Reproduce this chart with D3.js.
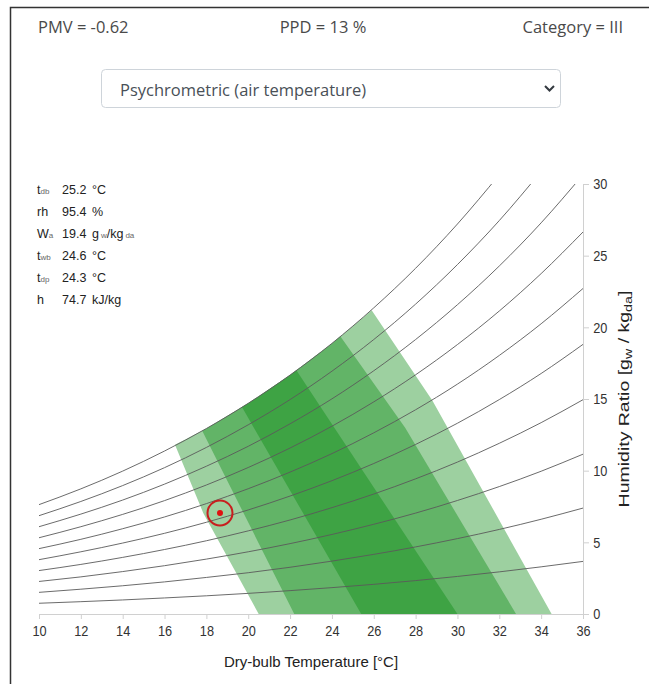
<!DOCTYPE html>
<html><head><meta charset="utf-8">
<script src="https://cdn.jsdelivr.net/npm/d3@7"></script>
<style>body{margin:0;background:#fff} svg{display:block}</style>
</head><body><svg id="c" width="649" height="684"></svg>
<script>
// ---- data ----
const temps=[10,12,14,16,18,20,22,24,26,28,30,32,34,36];
const rhLevels=[10,20,30,40,50,60,70,80,90,100];
const rh10=[0.75,0.86,0.98,1.12,1.27,1.44,1.63,1.84,2.07,2.33,2.62,2.94,3.29,3.67];
const rh20=[1.51,1.73,1.97,2.24,2.55,2.88,3.26,3.69,4.16,4.68,5.26,5.90,6.61,7.39];
const rh30=[2.27,2.59,2.96,3.37,3.83,4.34,4.91,5.55,6.26,7.04,7.92,8.89,9.96,11.15];
const rh40=[3.03,3.46,3.95,4.50,5.11,5.80,6.56,7.42,8.37,9.43,10.60,11.91,13.35,14.95];
const rh50=[3.79,4.34,4.95,5.63,6.40,7.26,8.23,9.30,10.50,11.83,13.31,14.96,16.78,18.81];
const rh60=[4.56,5.21,5.95,6.77,7.70,8.74,9.90,11.19,12.64,14.25,16.04,18.04,20.25,22.71];
const rh70=[5.32,6.09,6.95,7.91,9.00,10.22,11.58,13.10,14.80,16.69,18.80,21.14,23.75,26.65];
const rh80=[6.09,6.97,7.95,9.06,10.31,11.70,13.27,15.01,16.97,19.15,21.58,24.28,27.29,30.65];
const rh90=[6.86,7.85,8.96,10.21,11.62,13.20,14.96,16.94,19.15,21.62,24.38,27.45,30.88];
const rh100=[7.63,8.73,9.97,11.37,12.94,14.70,16.67,18.88,21.36,24.12,27.21,30.65];
const rhSeries=[rh10,rh20,rh30,rh40,rh50,rh60,rh70,rh80,rh90,rh100];

// comfort zones [tdb, W]
const zoneCatIII=[[20.5,0],[17.85,7.05],[16.5,11.8],[18,12.94],[20,14.70],[22,16.67],[24,18.88],[25.9,21.2],[28.8,14.9],[34.5,0]];
const zoneCatII=[[22.2,0],[17.8,12.78],[18,12.94],[20,14.70],[22,16.67],[24,18.88],[24.4,19.38],[27.5,13.0],[32.8,0]];
const zoneCatI=[[25.4,0],[19.7,14.44],[20,14.70],[22,16.67],[22.3,17.0],[30.0,0]];
const zones=[zoneCatIII,zoneCatII,zoneCatI];

const point=[18.65,7.05];
const xTicks=[10,12,14,16,18,20,22,24,26,28,30,32,34,36];
const yTicks=[0,5,10,15,20,25,30];

const headerLabels=["PMV = -0.62","PPD = 13 %","Category = III"];
const selectLabel="Psychrometric (air temperature)";
const infoNames=[["t","db"],["rh",""],["W","a"],["t","wb"],["t","dp"],["h",""]];
const infoValues=["25.2","95.4","19.4","24.6","24.3","74.7"];
const infoUnits=[["°C"],["%"],["g","w","/kg","da"],["°C"],["°C"],["kJ/kg"]];

// ---- drawing ----
const svg=d3.select("#c");
svg.append("rect").attr("width",649).attr("height",684).attr("fill","#fff");
svg.append("path").attr("d","M10.5,684 V7.5 H649").attr("fill","none").attr("stroke","#333").attr("stroke-width",1.5);

const SANS="'Liberation Sans', Arial, sans-serif";
const HDR="'Open Sans', 'Segoe UI', sans-serif";

// header
const hx=[38,323,623], ha=["start","middle","end"];
headerLabels.forEach((t,i)=>{
  svg.append("text").attr("x",hx[i]).attr("y",26).attr("dominant-baseline","central")
    .attr("text-anchor",ha[i]).attr("font-family",HDR).attr("font-size",16.5).attr("fill","#4a4a4a").text(t);
});
// select box
svg.append("rect").attr("x",101.5).attr("y",69.5).attr("width",459).attr("height",38).attr("rx",4)
  .attr("fill","#fff").attr("stroke","#ced4da");
svg.append("text").attr("x",120).attr("y",89).attr("dominant-baseline","central")
  .attr("font-family",HDR).attr("font-size",16.5).attr("fill","#495057").text(selectLabel);
svg.append("path").attr("d","M545,86 l4.5,4.5 l4.5,-4.5").attr("fill","none").attr("stroke","#343a40").attr("stroke-width",2);

const x=d3.scaleLinear().domain([10,36]).range([39,583]);
const y=d3.scaleLinear().domain([0,30]).range([614,184]);

svg.append("clipPath").attr("id","plot").append("rect")
  .attr("x",x(10)).attr("y",y(30)).attr("width",x(36)-x(10)).attr("height",y(0)-y(30));
const g=svg.append("g").attr("clip-path","url(#plot)");

const poly=d3.line().x(d=>x(d[0])).y(d=>y(d[1]));
g.selectAll("path.zone").data(zones).join("path").attr("class","zone")
  .attr("d",d=>poly(d)+"Z").attr("fill","#0a8a12").attr("fill-opacity",0.4);

const line=d3.line().x(d=>x(d[0])).y(d=>y(d[1])).curve(d3.curveMonotoneX);
g.selectAll("path.rh").data(rhSeries).join("path").attr("class","rh")
  .attr("d",s=>line(s.map((w,i)=>[temps[i],w]))).attr("fill","none")
  .attr("stroke","#5a5a5a").attr("stroke-width",0.9);

svg.append("circle").attr("cx",x(point[0])).attr("cy",y(point[1])).attr("r",12.5)
  .attr("fill","none").attr("stroke","#c81e1e").attr("stroke-width",2);
svg.append("circle").attr("cx",x(point[0])).attr("cy",y(point[1])).attr("r",3).attr("fill","#e01010");

// axes
const xa=svg.append("g").attr("transform",`translate(0,${y(0)})`)
  .call(d3.axisBottom(x).tickValues(xTicks).tickSize(5).tickPadding(6).tickSizeOuter(0));
const ya=svg.append("g").attr("transform",`translate(${x(36)},0)`)
  .call(d3.axisRight(y).tickValues(yTicks).tickSize(6).tickPadding(6).tickSizeOuter(0));
[xa,ya].forEach(a=>{
  a.selectAll("path,line").attr("stroke","#d0d0d0");
  a.selectAll("text").attr("font-family",SANS).attr("font-size",15).attr("fill","#333").attr("transform","scale(0.85,1)");
});

svg.append("text").attr("x",x(23)).attr("y",661).attr("text-anchor","middle")
  .attr("dominant-baseline","central").attr("font-family",SANS).attr("font-size",15).attr("fill","#222")
  .text("Dry-bulb Temperature [°C]");

const yt=svg.append("text").attr("transform",`translate(624,${y(15)}) rotate(-90) scale(1.3,1)`).attr("text-anchor","middle")
  .attr("dominant-baseline","central").attr("font-family",SANS).attr("font-size",15).attr("fill","#222");
yt.append("tspan").text("Humidity Ratio [g");
yt.append("tspan").attr("dy",4).attr("font-size",11).text("w");
yt.append("tspan").attr("dy",-4).text(" / kg");
yt.append("tspan").attr("dy",4).attr("font-size",11).text("da");
yt.append("tspan").attr("dy",-4).text("]");

// info block
const rowY=[190,212,234,256,278,300];
infoNames.forEach((n,i)=>{
  const t=svg.append("text").attr("x",37).attr("y",rowY[i]).attr("dominant-baseline","central")
    .attr("font-family",SANS).attr("font-size",12.5).attr("fill","#222");
  t.append("tspan").text(n[0]);
  if(n[1]) t.append("tspan").attr("font-size",8).attr("fill","#666").attr("dy",1).text(n[1]);
  svg.append("text").attr("x",62).attr("y",rowY[i]).attr("dominant-baseline","central")
    .attr("font-family",SANS).attr("font-size",12.5).attr("fill","#222").text(infoValues[i]);
  const u=svg.append("text").attr("x",92).attr("y",rowY[i]).attr("dominant-baseline","central")
    .attr("font-family",SANS).attr("font-size",12.5).attr("fill","#222");
  infoUnits[i].forEach((s,k)=>{
    const ts=u.append("tspan").text(s);
    if(k%2===1){ ts.attr("font-size",8).attr("fill","#666").attr("dx",2).attr("dy",1); }
    else if(k>0){ ts.attr("dy",-1); }
  });
});
</script></body></html>
